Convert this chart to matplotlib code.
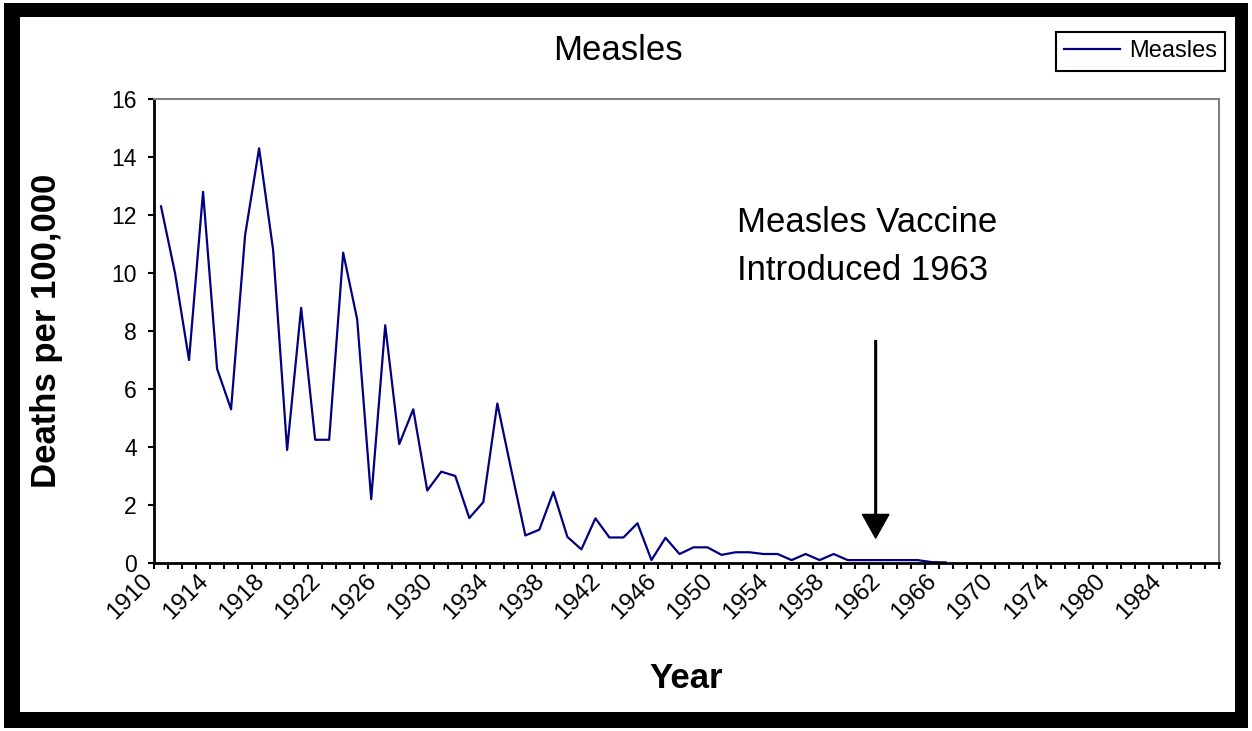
import matplotlib
matplotlib.use('Agg')
import matplotlib.pyplot as plt
from matplotlib.patches import Rectangle
from matplotlib.transforms import ScaledTranslation
import numpy as np

# ---------------- data ----------------
years = list(range(1910, 1977)) + [1978, 1980, 1981, 1982, 1983, 1984, 1985, 1986, 1987]
measles = [12.3, 10.0, 7.0, 12.8, 6.7, 5.3, 11.3, 14.3, 10.8, 3.9,
           8.8, 4.25, 4.25, 10.7, 8.4, 2.2, 8.2, 4.1, 5.3, 2.5,
           3.15, 3.0, 1.55, 2.1, 5.5, 3.2, 0.95, 1.15, 2.45, 0.9,
           0.47, 1.54, 0.88, 0.88, 1.37, 0.1, 0.87, 0.31, 0.54, 0.54,
           0.28, 0.37, 0.37, 0.31, 0.31, 0.1, 0.31, 0.1, 0.31, 0.1,
           0.1, 0.1, 0.1, 0.1, 0.1, 0.03, 0.02]
label_step = 4
y_ticks = list(range(0, 17, 2))
vaccine_index = 51          # category where the arrow points
arrow_tail, arrow_tip = 7.67, 0.86

# ---------------- figure ----------------
plt.rcParams['font.family'] = ['Liberation Sans', 'DejaVu Sans']
W, H = 1252, 731
fig = plt.figure(figsize=(W / 100, H / 100), dpi=100)
fig.patch.set_facecolor('white')


def fx(px):
    return px / W


def fy(py):
    return 1 - py / H


# outer black frame
fig.patches.append(Rectangle((fx(4), fy(728)), fx(1248) - fx(4), fy(3) - fy(728),
                             transform=fig.transFigure, facecolor='black',
                             edgecolor='none', zorder=-2))
fig.patches.append(Rectangle((fx(20), fy(712)), fx(1235) - fx(20), fy(17) - fy(712),
                             transform=fig.transFigure, facecolor='white',
                             edgecolor='none', zorder=-1))

ax = fig.add_axes([fx(154), fy(563), fx(1219) - fx(154), fy(99) - fy(563)])
ax.set_facecolor('white')
x = np.arange(len(measles))
line, = ax.plot(x, measles, color='#000080', lw=1.6, label='Measles')

ax.set_xlim(-0.5, len(years) - 0.5)
ax.set_ylim(0, 16)
ax.set_yticks(y_ticks)
ax.tick_params(axis='y', direction='out', length=4.5, width=1.5, labelsize=16.5, pad=8)

idx = list(range(0, len(years), label_step))
ax.set_xticks(idx)
ax.set_xticklabels([str(years[i]) for i in idx], rotation=45, ha='right',
                   va='top', rotation_mode='anchor', fontsize=17.5)
ax.set_xticks(np.arange(-0.5, len(years)), minor=True)
ax.tick_params(axis='x', which='major', length=0, pad=5)
ax.tick_params(axis='x', which='minor', direction='out', length=4, width=1.5)
off = ScaledTranslation(-20 / 100, 0, fig.dpi_scale_trans)
for lab in ax.get_xticklabels():
    lab.set_transform(lab.get_transform() + off)

for s in ['top', 'right']:
    ax.spines[s].set_color('#808080')
    ax.spines[s].set_linewidth(1.5)
for s in ['left', 'bottom']:
    ax.spines[s].set_color('black')
    ax.spines[s].set_linewidth(2)

# arrow
ax.annotate('', xy=(vaccine_index, arrow_tip), xytext=(vaccine_index, arrow_tail),
            arrowprops=dict(facecolor='black', edgecolor='black', width=1.2,
                            headwidth=19, headlength=17, shrink=0))

# texts
fig.text(fx(618), fy(50), 'Measles', ha='center', va='center', fontsize=25)
fig.text(fx(686), fy(679), 'Year', ha='center', va='center', fontsize=25,
         fontweight='bold')
fig.text(fx(47), fy(331), 'Deaths per 100,000', ha='center', va='center',
         rotation=90, fontsize=25, fontweight='bold')
fig.text(fx(737), fy(232), 'Measles Vaccine', ha='left', va='baseline', fontsize=25)
fig.text(fx(737), fy(280), 'Introduced 1963', ha='left', va='baseline', fontsize=25)

leg = fig.legend(handles=[line], loc='upper right',
                 bbox_to_anchor=(fx(1225), fy(32)), fontsize=17,
                 frameon=True, fancybox=False, framealpha=1,
                 handlelength=2.4, handletextpad=0.35, borderpad=0.35,
                 borderaxespad=0)
leg.get_frame().set_edgecolor('black')
leg.get_frame().set_linewidth(1.5)

fig.savefig('out.png', dpi=100)
